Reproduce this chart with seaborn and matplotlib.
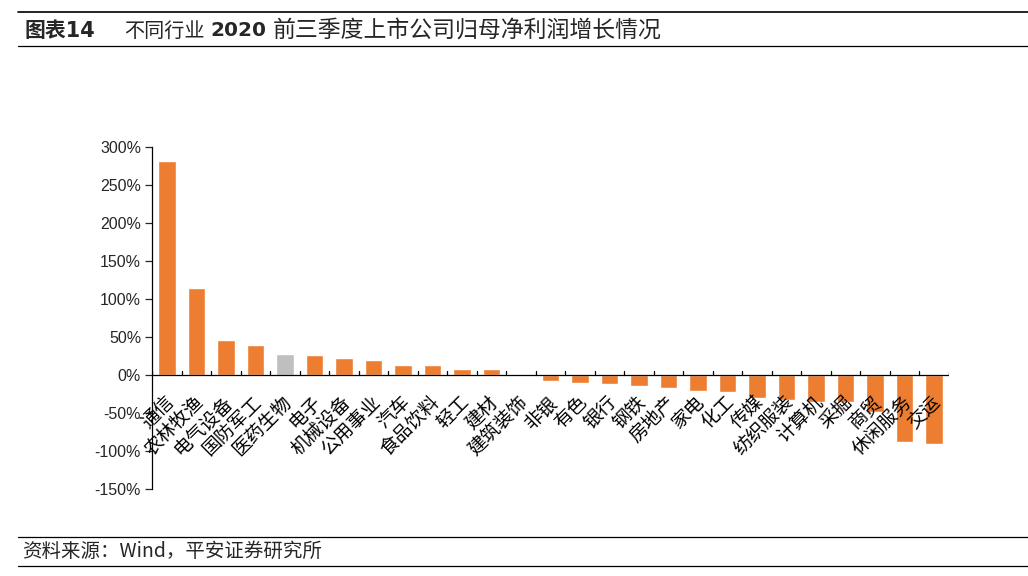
import matplotlib
matplotlib.use("Agg")
import matplotlib.pyplot as plt
import matplotlib.lines as mlines
import pandas as pd
import seaborn as sns
from matplotlib.ticker import FuncFormatter, MultipleLocator

# 各行业2020前三季度归母净利润增速(%)
industries = ["通信", "农林牧渔", "电气设备", "国防军工", "医药生物", "电子", "机械设备",
              "公用事业", "汽车", "食品饮料", "轻工", "建材", "建筑装饰", "非银", "有色",
              "银行", "钢铁", "房地产", "家电", "化工", "传媒", "纺织服装", "计算机",
              "采掘", "商贸", "休闲服务", "交运"]
growth = [282, 115, 46.5, 40, 27.5, 26, 22, 20, 13.5, 13.5, 8.5, 7.5, 0.3, -8.5, -11,
          -12.5, -15, -16.5, -20.5, -22, -30, -33.5, -35, -35, -49, -88.5, -91]
highlight = "医药生物"

orange = "#ED7D31"
grey = "#BFBFBF"
cjk = ["Noto Sans CJK SC", "DejaVu Sans"]

df = pd.DataFrame({"industry": industries, "growth": growth})
palette = {name: (grey if name == highlight else orange) for name in industries}

sns.set_style("white")
plt.rcParams["font.family"] = cjk

fig = plt.figure(figsize=(10.28, 5.76), dpi=100)
ax = fig.add_axes([0.148, 0.151, 0.775, 0.594])

sns.barplot(data=df, x="industry", y="growth", hue="industry", palette=palette,
            width=0.6, saturation=1, legend=False, ax=ax)

ax.set_ylim(-150, 300)
ax.set_xlim(-0.5, len(industries) - 0.5)
ax.yaxis.set_major_locator(MultipleLocator(50))
ax.yaxis.set_major_formatter(FuncFormatter(lambda v, p: f"{v:.0f}%"))
ax.set_xlabel("")
ax.set_ylabel("")

for side in ["top", "right", "bottom"]:
    ax.spines[side].set_visible(False)
ax.spines["left"].set_color("black")
ax.spines["left"].set_linewidth(0.9)
ax.axhline(0, color="black", lw=0.9, zorder=3)

# category labels hang from the zero line; small ticks point up between categories
ax.set_xticks([])
for i in range(len(industries) + 1):
    ax.plot([i - 0.5, i - 0.5], [0, 5.5], color="black", lw=0.9, zorder=3)
for i, name in enumerate(industries):
    ax.text(i - 0.12, -22, name, rotation=45, ha="right", va="top",
            rotation_mode="anchor", fontsize=13.5, color="black")

ax.tick_params(axis="y", length=5, direction="out", width=0.9, left=True, pad=3)
for lbl in ax.get_yticklabels():
    lbl.set_fontfamily(["Liberation Sans", "DejaVu Sans"])
    lbl.set_fontsize(11.5)

# title and footer rules
W, H = 1028, 576
def hline(ypix, x0=18, x1=1028, lw=1.0):
    fig.add_artist(mlines.Line2D([x0 / W, x1 / W], [1 - ypix / H, 1 - ypix / H],
                                 color="black", lw=lw, transform=fig.transFigure))

hline(12, lw=1.2)
hline(46, lw=0.9)
hline(537, lw=0.9)
hline(566, lw=0.9)

ty = 1 - 31 / H
title_parts = [("图表14", 25, "bold", 15, ["DejaVu Sans", "Noto Sans CJK SC"]),
               ("不同行业", 124, "normal", 14.5, cjk),
               ("2020", 210, "bold", 14.5, ["DejaVu Sans"]),
               ("前三季度上市公司归母净利润增长情况", 273, "normal", 16.5, cjk)]
for text, xpix, weight, size, fam in title_parts:
    fig.text(xpix / W, ty, text, fontsize=size, fontweight=weight, va="center",
             ha="left", family=fam)

fig.text(22 / W, 1 - 551 / H, "资料来源：Wind，平安证券研究所", fontsize=14,
         style="italic", va="center", ha="left", family=cjk)

fig.savefig("out.png", dpi=100)
